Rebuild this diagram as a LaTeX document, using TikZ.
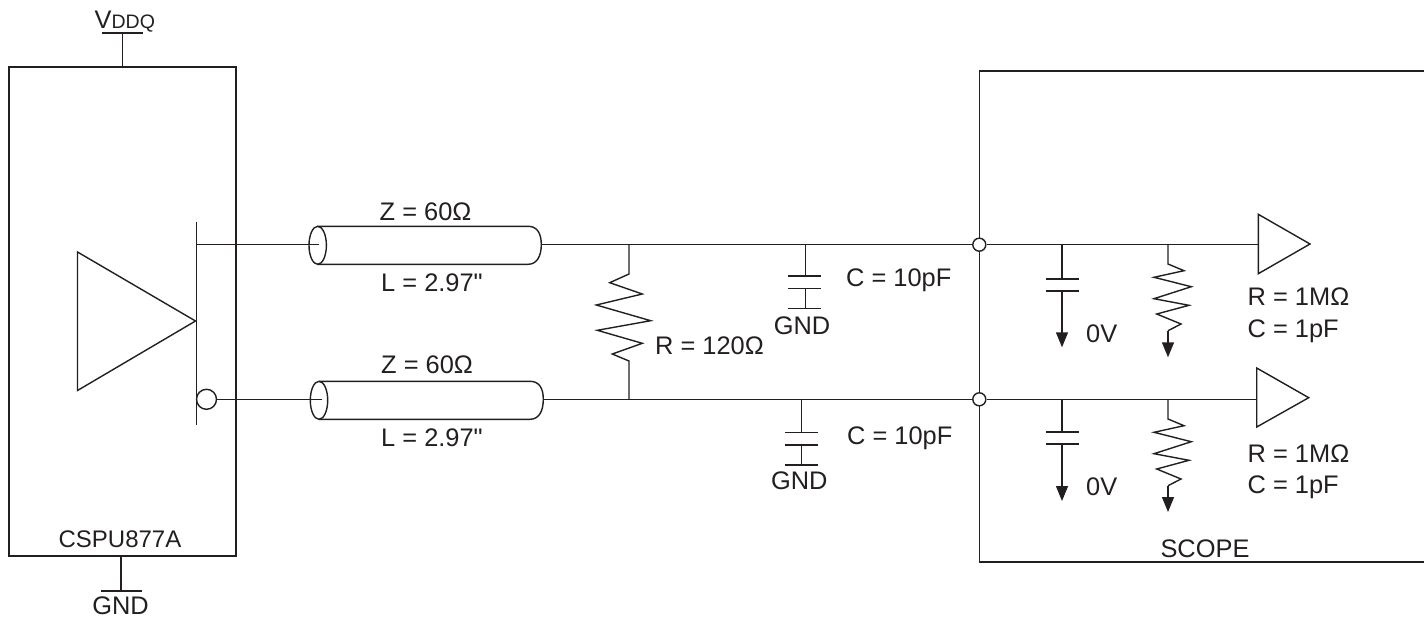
\documentclass[tikz,border=0pt]{standalone}
\usepackage{fontspec}
\newfontfamily\lblfont{Liberation Sans}
\usetikzlibrary{arrows.meta}
\definecolor{ink}{HTML}{231F20}
\tikzset{
  wire/.style={draw=ink,line width=1.4pt,line join=miter},
  lbl/.style={inner sep=0pt,text=ink,font=\lblfont\fontsize{25.4}{25.4}\selectfont,text height=18.2pt,text depth=0pt},
  lblw/.style={lbl,anchor=west},
  ring/.style={circle,draw=ink,fill=white,line width=1.4pt,inner sep=0pt,minimum size=#1},
  gndarrow/.style={wire,-{Triangle[length=15pt,width=12pt,fill=ink]}},
}
\begin{document}
\begin{tikzpicture}[x=1pt,y=-1pt]
\useasboundingbox (0,0) rectangle (1424,618);
% chip
\coordinate (chipTL) at (9,67);
\coordinate (chipBR) at (236,556);
\draw[wire] (chipTL) rectangle (chipBR);
\coordinate (vs) at (122.5,67); \coordinate (vt) at (122.5,33);
\coordinate (vl) at (102,33); \coordinate (vr) at (143,33);
\draw[wire] (vs) -- (vt); \draw[wire] (vl) -- (vr);
\node[lblw] (vddq) at (94.5,19.4) {V{\fontsize{19.5}{19.5}\selectfont DDQ}};
\coordinate (gs) at (121,556); \coordinate (gt) at (121,591);
\coordinate (gl) at (101,591); \coordinate (gr) at (142,591);
\draw[wire] (gs) -- (gt); \draw[wire] (gl) -- (gr);
\node[lbl] (gndchip) at (120.5,605.5) {GND};
\node[lbl,font=\lblfont\fontsize{24}{24}\selectfont,text height=17.2pt] (chipname) at (120,539) {CSPU877A};
% driver
\coordinate (da) at (77.5,252); \coordinate (db) at (195.5,321); \coordinate (dc) at (77.5,390.5);
\draw[wire] (da) -- (db) -- (dc) -- cycle;
\coordinate (bt) at (196.3,222); \coordinate (bb) at (196.3,425);
\draw[wire] (bt) -- (bb);
\coordinate (o1) at (196.3,244.7);
\node[ring=20pt] (bub) at (206.5,399.3) {};
% cables
\coordinate (c1) at (319,244.7);
\coordinate (c2) at (321.5,399.3);
\draw[wire] (317.7,226.3) -- (528,226.3) .. controls (537,226.3) and (541.3,233) .. (541.3,244.7) .. controls (541.3,256) and (537,264.3) .. (528,264.3) -- (317.7,264.3);
\draw[wire] (319,381.3) -- (530,381.3) .. controls (539,381.3) and (543.3,388) .. (543.3,399.3) .. controls (543.3,411) and (539,419.3) .. (530,419.3) -- (319,419.3);
\draw[wire] (317.7,245.3) ellipse [x radius=8.7,y radius=19];
\draw[wire] (319,400.3) ellipse [x radius=8.7,y radius=19];
\draw[wire] (o1) -- (c1);
\draw[wire] (bub) -- (c2);
\node[lblw] (z1) at (379.5,211.7) {Z = 60Ω};
\node[lblw] (l1) at (381,282.7) {L = 2.97"};
\node[lblw] (z2) at (381,364.3) {Z = 60Ω};
\node[lblw] (l2) at (381,437.7) {L = 2.97"};
% scope box
\draw[wire] (1424,71) -- (979.3,71) -- (979.3,562) -- (1424,562);
\node[ring=13pt] (j1) at (979.3,244.7) {};
\node[ring=13pt] (j2) at (979.3,399.3) {};
\coordinate (e1) at (541.3,244.7);
\coordinate (e2) at (543.3,399.3);
\draw[wire] (e1) -- (j1);
\draw[wire] (e2) -- (j2);
% termination resistor
\coordinate (rt) at (629,244.7);
\coordinate (rb) at (629,399.3);
\draw[wire] (rt) -- (629,274) -- (609.7,282.7) -- (642.3,294) -- (596.3,305) -- (650.7,320.7) -- (597.3,330.3) -- (642.3,343.3) -- (612.3,354) -- (629,361) -- (rb);
\node[lblw] (r120) at (655,345) {R = 120Ω};
% load caps
\coordinate (ca) at (805.3,244.7);
\coordinate (cb) at (805.3,276); \coordinate (cc) at (805.3,288.7); \coordinate (cd) at (805.3,308.7);
\draw[wire] (ca) -- (cb); \draw[wire] (cc) -- (cd);
\draw[wire] (788,276) -- (820.7,276); \draw[wire] (788,288.7) -- (820.7,288.7); \draw[wire] (788,308.7) -- (820.7,308.7);
\node[lbl] (g1) at (802,325) {GND};
\node[lblw] (c10a) at (846,277) {C = 10pF};
\coordinate (da1) at (801.3,399.3);
\coordinate (db1) at (801.3,432.3); \coordinate (dc1) at (801.3,445); \coordinate (dd1) at (801.3,465);
\draw[wire] (da1) -- (db1); \draw[wire] (dc1) -- (dd1);
\draw[wire] (785.3,432.3) -- (817.7,432.3); \draw[wire] (785.3,445) -- (817.7,445); \draw[wire] (785.3,465) -- (817.7,465);
\node[lbl] (g2) at (799.3,480.7) {GND};
\node[lblw] (c10b) at (847,435) {C = 10pF};
% receivers
\coordinate (t1) at (1258.3,244.7);
\draw[wire] (1258.3,214.3) -- (1310,244) -- (1258.3,273.7) -- cycle;
\draw[wire] (j1) -- (t1);
\coordinate (t2) at (1256.7,399.3);
\draw[wire] (1256.7,368) -- (1308.7,397.7) -- (1256.7,427) -- cycle;
\draw[wire] (j2) -- (t2);
% scope caps
\coordinate (s1) at (1062,244.7);
\coordinate (s1a) at (1062,279); \coordinate (s1b) at (1062,291); \coordinate (s1c) at (1062,347.3);
\draw[wire] (s1) -- (s1a);
\draw[wire] (1046.3,279) -- (1078.7,279); \draw[wire] (1046.3,291) -- (1078.7,291);
\draw[gndarrow] (s1b) -- (s1c);
\node[lblw] (v0a) at (1086,333.3) {0V};
\coordinate (s2) at (1062,399.3);
\coordinate (s2a) at (1062,432); \coordinate (s2b) at (1062,444); \coordinate (s2c) at (1062,501);
\draw[wire] (s2) -- (s2a);
\draw[wire] (1046.3,432) -- (1078.7,432); \draw[wire] (1046.3,444) -- (1078.7,444);
\draw[gndarrow] (s2b) -- (s2c);
\node[lblw] (v0b) at (1086,486) {0V};
% scope resistors
\coordinate (q1) at (1168,244.7); \coordinate (q1e) at (1168,357.3);
\draw[wire] (q1) -- (1168,264) -- (1184,270.7) -- (1154,277.3) -- (1191.3,286.7) -- (1154,298.7) -- (1189,305.3) -- (1156.7,314) -- (1181,324) -- (1168,330.7);
\draw[gndarrow] (1168,330.7) -- (q1e);
\coordinate (q2) at (1168,399.3); \coordinate (q2e) at (1168,512);
\draw[wire] (q2) -- (1168,419) -- (1184,425.7) -- (1154,432.3) -- (1191.3,441.7) -- (1154,453.7) -- (1189,460.3) -- (1156.7,469) -- (1181,479) -- (1168,485.7);
\draw[gndarrow] (1168,485.7) -- (q2e);
\node[lblw] (r1a) at (1247.5,296) {R = 1MΩ};
\node[lblw] (c1a) at (1247.5,328.3) {C = 1pF};
\node[lblw] (r1b) at (1247.5,453.3) {R = 1MΩ};
\node[lblw] (c1b) at (1247.5,484.3) {C = 1pF};
\node[lbl] (scope) at (1205,548) {SCOPE};
\end{tikzpicture}
\end{document}
